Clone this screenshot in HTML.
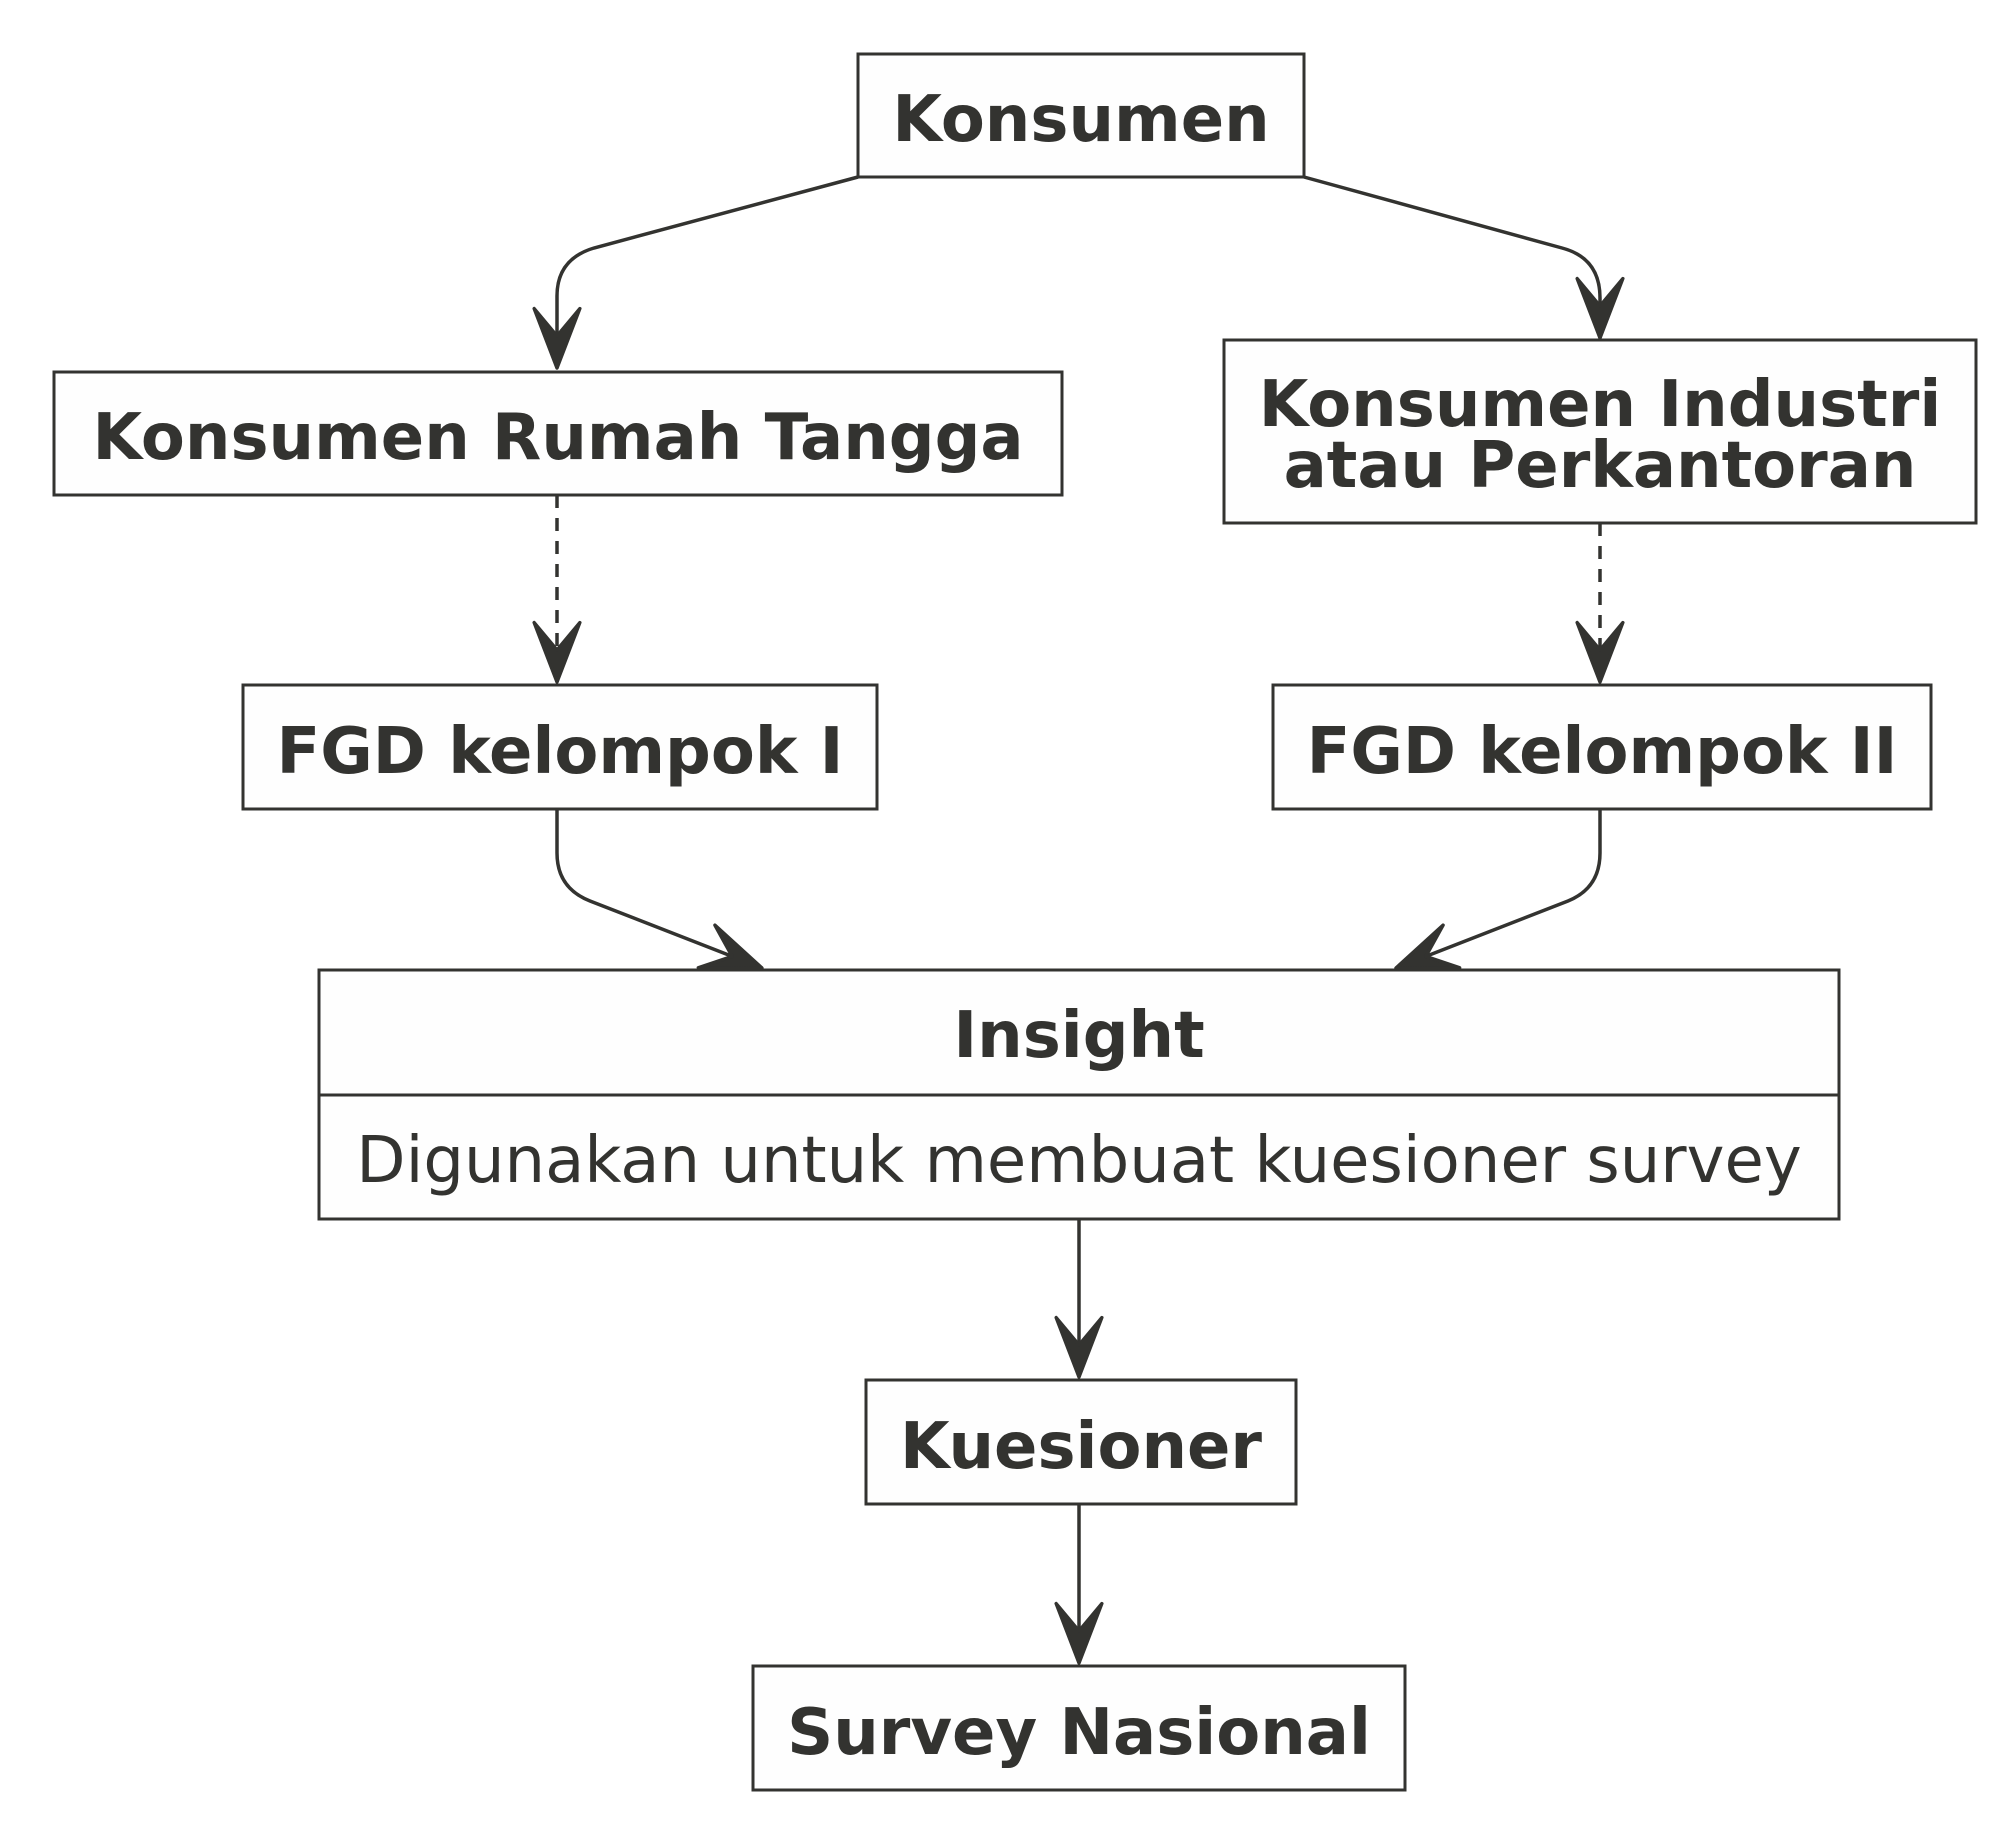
<!DOCTYPE html>
<html><head><meta charset="utf-8"><style>
html,body{margin:0;padding:0;background:#fff;}
svg{display:block;}
text{font-family:"DejaVu Sans","Liberation Sans",sans-serif;fill:#333330;}
.b{font-weight:bold;font-size:64px;}
.r{font-size:64px;}
</style></head><body>
<svg width="2016" height="1832" viewBox="0 0 2016 1832" xmlns="http://www.w3.org/2000/svg">
<defs>
<marker id="a" markerUnits="userSpaceOnUse" markerWidth="80" markerHeight="80" viewBox="-60 -30 70 60" refX="0" refY="0" orient="auto">
<path d="M0,0 L-52,-20 L-28,0 L-52,20 Z" fill="#333330" stroke="#333330" stroke-width="3" stroke-linejoin="round"/>
</marker>
</defs>
<g fill="none" stroke="#333330" stroke-width="3.5">
<path d="M858,177 L594,248 Q557,259 557,296 L557,368" marker-end="url(#a)"/>
<path d="M1304,177 L1562,248 Q1600,258 1600,298 L1600,338" marker-end="url(#a)"/>
<path d="M557,495 L557,682" stroke-dasharray="13,10" marker-end="url(#a)"/>
<path d="M1600,523 L1600,682" stroke-dasharray="13,10" marker-end="url(#a)"/>
<path d="M557,809 L557,853 Q557,888 590,901 L762,968" marker-end="url(#a)"/>
<path d="M1600,809 L1600,853 Q1600,888 1568,901 L1396,968" marker-end="url(#a)"/>
<path d="M1079,1219 L1079,1377" marker-end="url(#a)"/>
<path d="M1079,1504 L1079,1663" marker-end="url(#a)"/>
</g>
<g fill="#fefefe" stroke="#333330" stroke-width="3">
<rect x="858" y="54" width="446" height="123"/>
<rect x="54" y="372" width="1008" height="123"/>
<rect x="1224" y="340" width="752" height="183"/>
<rect x="243" y="685" width="634" height="124"/>
<rect x="1273" y="685" width="658" height="124"/>
<rect x="319" y="970" width="1520" height="249"/>
<line x1="319" y1="1095" x2="1839" y2="1095"/>
<rect x="866" y="1380" width="430" height="124"/>
<rect x="753" y="1666" width="652" height="124"/>
</g>
<text class="b" x="1081" y="141" text-anchor="middle">Konsumen</text>
<text class="b" x="558" y="459" text-anchor="middle">Konsumen Rumah Tangga</text>
<text class="b" x="1600" y="426" text-anchor="middle">Konsumen Industri</text>
<text class="b" x="1600" y="487" text-anchor="middle">atau Perkantoran</text>
<text class="b" x="560" y="773" text-anchor="middle">FGD kelompok I</text>
<text class="b" x="1602" y="773" text-anchor="middle">FGD kelompok II</text>
<text class="b" x="1079" y="1057" text-anchor="middle">Insight</text>
<text class="r" x="1079" y="1182" text-anchor="middle">Digunakan untuk membuat kuesioner survey</text>
<text class="b" x="1081" y="1468" text-anchor="middle">Kuesioner</text>
<text class="b" x="1079" y="1754" text-anchor="middle">Survey Nasional</text>
</svg>
</body></html>
